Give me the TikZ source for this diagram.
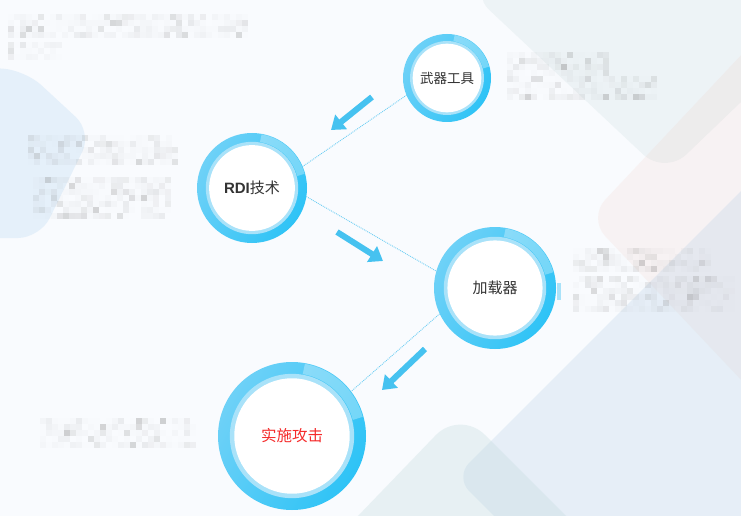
\documentclass[tikz,border=0pt]{standalone}
\usepackage{fontspec}
\newfontfamily\cjk{Noto Sans CJK SC}
\newfontfamily\arialb{Liberation Sans}
\usetikzlibrary{arrows.meta}
\definecolor{bgbase}{HTML}{F9FBFE}
\definecolor{ringdeep}{HTML}{2EC3F6}
\definecolor{ringlite}{HTML}{6ED1F7}
\definecolor{ringpale}{HTML}{A9E2F9}
\definecolor{arrowblue}{HTML}{46C2F0}
\definecolor{linkblue}{HTML}{6CCDF3}
\definecolor{txtgrey}{HTML}{333333}
\definecolor{atkred}{HTML}{F52A2A}
\tikzset{
  bubble/.style={circle,inner sep=0pt,outer sep=0pt,minimum size={2*#1pt},
    left color=ringlite,right color=ringdeep,shading angle=60,text=txtgrey,
    path picture={
      \coordinate (c) at (path picture bounding box.center);
      \draw[white,opacity=.3,line width={.14*#1pt}] ([shift={(15:.92*#1pt)}]c)
        arc[start angle=15,end angle=80,radius={.92*#1pt}];
      \fill[ringpale] (c) circle[radius={.84*#1pt}];
      \fill[white] (c) circle[radius={.78*#1pt}];
    }},
  link/.style={linkblue,densely dotted,line width=.9pt},
  bigarrow/.style={arrowblue,line width=6pt,-{Triangle[length=13pt,width=18pt]}}
}
% pixelated (unreadable) text blocks
\newcommand\blurblock[4]{%
  \foreach \i in {1,...,#3}
  \foreach \j in {1,...,#4}{
    \pgfmathsetmacro\op{.5*rnd*rnd*rnd}
    \fill[gray,opacity=\op] ({#1+6*\i-6},{#2+6*\j-6}) rectangle ++(6,6);
  }}
\begin{document}
\begin{tikzpicture}[x=1pt,y=-1pt]
  \useasboundingbox (0,0) rectangle (741,516);
  \clip (0,0) rectangle (741,516);
  \fill[bgbase] (0,0) rectangle (741,516);
  % background
  \fill[fill={rgb,255:red,185;green,216;blue,242},opacity=.3,rounded corners=22]
    (-40,66) -- (25,70) -- (92,132) -- (40,238) -- (-40,238) -- cycle;
  \fill[fill={rgb,255:red,191;green,214;blue,214},opacity=.2,rounded corners=30]
    (468,-10) -- (665,175) -- (790,55) -- (790,-10) -- cycle;
  \fill[fill={rgb,255:red,242;green,200;blue,190},opacity=.16,rounded corners=25]
    (760,35) -- (588,218) -- (760,400) -- cycle;
  \fill[fill={rgb,255:red,188;green,211;blue,232},opacity=.3,rounded corners=20]
    (455,477) -- (760,172) -- (760,560) -- (538,560) -- cycle;
  \fill[fill={rgb,255:red,191;green,217;blue,220},opacity=.3,rounded corners=35]
    (330,545) -- (460,410) -- (595,545) -- cycle;
  \fill[ringpale] (557,283) rectangle (561,300);
  % blurred texts
  \pgfmathsetseed{7}
  \blurblock{8}{14}{40}{4}
  \blurblock{8}{42}{9}{3}
  \blurblock{28}{135}{25}{5}
  \blurblock{33}{177}{23}{7}
  \blurblock{507}{52}{17}{4}
  \blurblock{507}{76}{25}{4}
  \blurblock{573}{248}{23}{4}
  \blurblock{573}{276}{27}{6}
  \blurblock{40}{418}{26}{5}
  % circles
  \node[bubble=44,font=\cjk\fontsize{13.5}{16}\selectfont] (wq) at (447,78) {武器工具};
  \node[bubble=55,font=\cjk\fontsize{15}{18}\selectfont] (rdi) at (252,188) {{\arialb\bfseries RDI}技术};
  \node[bubble=61,font=\cjk\fontsize{15}{18}\selectfont] (ld) at (495,288) {加载器};
  \node[bubble=74,font=\cjk\fontsize{15.5}{18}\selectfont,text=atkred] (atk) at (292,436) {实施攻击};
  % dotted links
  \draw[link] (wq.203) -- (rdi.23);
  \draw[link] (rdi.-9) -- (ld.164);
  \draw[link] (ld.205) -- (atk.37);
  % arrows
  \coordinate (a1s) at (372,97);  \coordinate (a1e) at (331,130);
  \coordinate (a2s) at (337,232); \coordinate (a2e) at (383,261);
  \coordinate (a3s) at (425,349); \coordinate (a3e) at (382,390);
  \draw[bigarrow] (a1s) -- (a1e);
  \draw[bigarrow] (a2s) -- (a2e);
  \draw[bigarrow] (a3s) -- (a3e);
\end{tikzpicture}
\end{document}
